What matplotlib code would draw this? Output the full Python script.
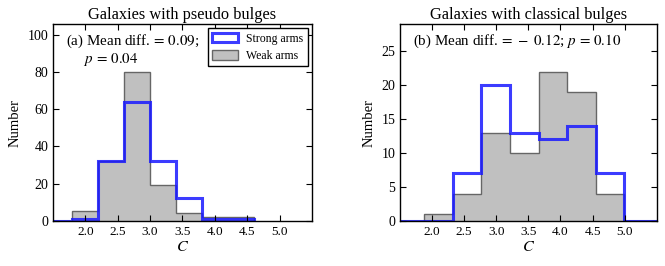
import matplotlib
matplotlib.use("Agg")
import matplotlib.pyplot as plt
import matplotlib.patches as mpatches
import numpy as np

plt.rcParams['font.family'] = ['Liberation Serif', 'DejaVu Serif']
plt.rcParams['mathtext.fontset'] = 'stix'

# Panel (a): pseudo bulges
edges_a = [1.0, 1.8, 2.2, 2.6, 3.0, 3.4, 3.8, 4.2, 4.6]
weak_a = [0, 5, 32, 80, 19, 4, 2, 2]
strong_a = [0, 1, 32, 64, 32, 12, 1, 1]

# Panel (b): classical bulges
edges_b = [1.0, 1.88, 2.32, 2.77, 3.21, 3.66, 4.10, 4.55, 4.99, 6.0]
weak_b = [0, 1, 4, 13, 10, 22, 19, 4, 0]
strong_b = [0, 0, 7, 20, 13, 12, 14, 7, 0]

titles = ["Galaxies with pseudo bulges", "Galaxies with classical bulges"]
notes = ["(a) Mean diff.$\\,=\\,0.09$;\n     $p\\,=\\,0.04$",
         "(b) Mean diff.$\\,=\\,-\\;0.12$; $p\\,=\\,0.10$"]
yticks_list = [[0, 20, 40, 60, 80, 100], [0, 5, 10, 15, 20, 25]]
ylims = [105.5, 29.0]
xticks = [2.0, 2.5, 3.0, 3.5, 4.0, 4.5, 5.0]

blue = (0.1, 0.1, 1.0, 0.85)
grey_face = '#c0c0c0'
grey_edge = '#666666'

fig = plt.figure(figsize=(6.65, 2.66), dpi=100)
axes = [fig.add_axes([0.0797, 0.170, 0.3893, 0.7386]),
        fig.add_axes([0.6015, 0.170, 0.3860, 0.7386])]

data = [(edges_a, weak_a, strong_a), (edges_b, weak_b, strong_b)]
for i, ax in enumerate(axes):
    edges, weak, strong = data[i]
    ax.stairs(weak, edges, fill=True, facecolor=grey_face, edgecolor='none')
    ax.stairs(weak, edges, fill=False, edgecolor=grey_edge, linewidth=1.0)
    ax.stairs(strong, edges, fill=False, edgecolor=blue, linewidth=2.2)
    ax.set_xlim(1.5, 5.5)
    ax.set_ylim(0, ylims[i])
    ax.set_xticks(xticks)
    ax.set_xticklabels([f"{t:.1f}" for t in xticks], fontsize=9.5)
    ax.set_yticks(yticks_list[i])
    ax.tick_params(axis='y', labelsize=10)
    ax.tick_params(direction='in', top=True, right=True, length=4, width=0.8)
    ax.set_xlabel("$C$", fontsize=11.5, labelpad=1)
    ax.set_ylabel("Number", fontsize=10.5)
    ax.set_title(titles[i], fontsize=11.8, pad=4)
    ax.text(0.05, 0.955, notes[i], transform=ax.transAxes, va='top', ha='left',
            fontsize=10.8, linespacing=1.05)
    for s in ax.spines.values():
        s.set_linewidth(1.0)

h1 = mpatches.Patch(facecolor='white', edgecolor=blue, linewidth=2.2, label='Strong arms')
h2 = mpatches.Patch(facecolor=grey_face, edgecolor=grey_edge, linewidth=1.0, label='Weak arms')
leg = axes[0].legend(handles=[h1, h2], loc='upper right', fontsize=8.5, fancybox=False,
                     edgecolor='black', framealpha=1, borderaxespad=0.35,
                     handlelength=2.2, handleheight=0.9, labelspacing=0.45,
                     borderpad=0.35, handletextpad=0.7)
leg.get_frame().set_linewidth(1.0)

fig.savefig("out.png", dpi=100)
